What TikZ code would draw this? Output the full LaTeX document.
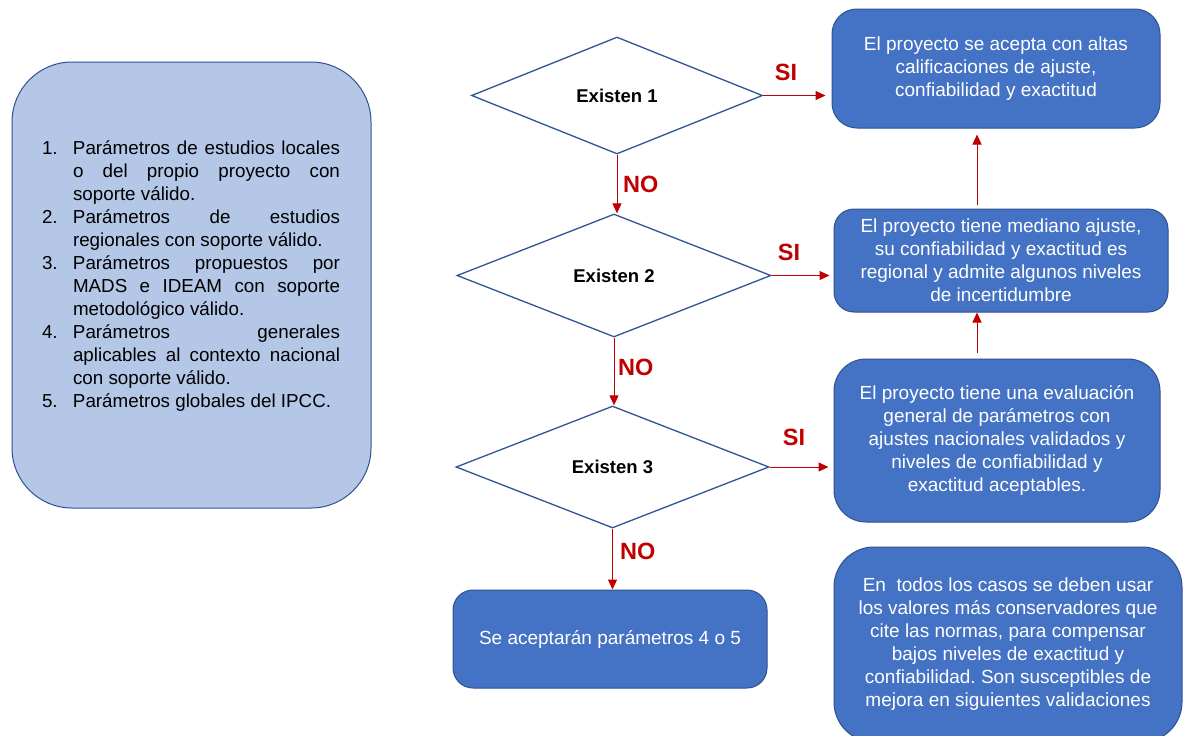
\documentclass[tikz,border=0pt]{standalone}
\usepackage{fontspec}
\setmainfont{Liberation Sans}
\usetikzlibrary{shapes.geometric,arrows.meta}
\definecolor{boxfill}{HTML}{4472C4}
\definecolor{boxline}{HTML}{2F528F}
\definecolor{leftfill}{HTML}{B4C7E7}
\definecolor{arrowred}{HTML}{C00000}
\definecolor{dialine}{HTML}{2F5597}
\frenchspacing
\begin{document}
\begin{tikzpicture}[x=1pt,y=-1pt,
  bluebox/.style={draw=boxline, fill=boxfill, line width=1pt, text=white, align=center,
    font=\fontsize{19}{23}\selectfont, inner sep=0pt},
  decision/.style={diamond, draw=dialine, line width=1.3pt, inner sep=0pt,
    font=\fontsize{18.5}{22}\selectfont\bfseries},
  flow/.style={draw=arrowred, line width=1pt, -{Triangle[length=10pt,width=9pt]}, arrowred},
  lab/.style={text=arrowred, font=\fontsize{23.5}{26}\selectfont\bfseries, inner sep=0pt},
  listtext/.style={text width=298pt, align=justify, inner sep=0pt,
    font=\fontsize{18.8}{23}\selectfont}
]
\useasboundingbox (0,0) rectangle (1183,736);
\fill[white] (0,0) rectangle (1183,736);
\begin{scope}
\clip (0,0) rectangle (1183,736);

% left list box
\node[draw=boxline, fill=leftfill, line width=1pt, rounded corners=60pt,
  minimum width=359pt, minimum height=446pt, inner sep=0pt] (left) at (191.5,285) {};
\node[listtext] (list) at (191,276) {\tolerance=10000\hyphenpenalty=10000%
\hangindent=31pt\hangafter=1\noindent\makebox[31pt][l]{1.}Parámetros de estudios locales\linebreak o del propio proyecto con\linebreak soporte válido.\par
\hangindent=31pt\hangafter=1\noindent\makebox[31pt][l]{2.}Parámetros de estudios\linebreak regionales con soporte válido.\par
\hangindent=31pt\hangafter=1\noindent\makebox[31pt][l]{3.}Parámetros propuestos por\linebreak MADS e IDEAM con soporte\linebreak metodológico válido.\par
\hangindent=31pt\hangafter=1\noindent\makebox[31pt][l]{4.}Parámetros generales\linebreak aplicables al contexto nacional\linebreak con soporte válido.\par
\hangindent=31pt\hangafter=1\noindent\makebox[31pt][l]{5.}Parámetros globales del IPCC.\par};

% decisions
\node[decision, minimum width=291pt, minimum height=117pt] (d1) at (617,95.5) {Existen 1};
\node[decision, minimum width=314pt, minimum height=123pt] (d2) at (614,275.5) {Existen 2};
\node[decision, minimum width=313pt, minimum height=122pt] (d3) at (612.5,467) {Existen 3};

% outcome boxes
\node[bluebox, rounded corners=25pt, minimum width=328pt, minimum height=119pt] (b1) at (996,68.5)
  {El proyecto se acepta con altas\\calificaciones de ajuste,\\confiabilidad y exactitud};
\node[bluebox, rounded corners=20pt, minimum width=334pt, minimum height=103pt] (b2) at (1001,260.5)
  {El proyecto tiene mediano ajuste,\\su confiabilidad y exactitud es\\regional y admite algunos niveles\\de incertidumbre};
\node[bluebox, rounded corners=32pt, minimum width=326pt, minimum height=163pt] (b3) at (997,440.5)
  {El proyecto tiene una evaluación\\general de parámetros con\\ajustes nacionales validados y\\niveles de confiabilidad y\\exactitud aceptables.};
\node[bluebox, rounded corners=40pt, minimum width=348pt, minimum height=195pt] (b4) at (1008,644.5)
  {En\ \ todos los casos se deben usar\\los valores más conservadores que\\cite las normas, para compensar\\bajos niveles de exactitud y\\confiabilidad. Son susceptibles de\\mejora en siguientes validaciones};
\node[bluebox, rounded corners=20pt, minimum width=314pt, minimum height=98pt] (b5) at (610,639)
  {Se aceptarán parámetros 4 o 5};

% NO arrows
\draw[flow] (d1.south) -- (d1.south |- d2.north);
\draw[flow] (d2.south) -- (d2.south |- d3.north);
\draw[flow] (d3.south) -- (d3.south |- b5.north);

% SI arrows
\draw[flow, shorten >=6pt] (d1.east) -- (d1.east -| b1.west);
\draw[flow, shorten >=4pt] (d2.east) -- (d2.east -| b2.west);
\draw[flow, shorten >=5pt] (d3.east) -- (d3.east -| b3.west);

% upward arrows
\draw[flow, shorten <=4pt, shorten >=6pt] (b2.north -| 977,0) -- (b1.south -| 977,0);
\draw[flow, shorten <=6pt] (b3.north -| 977,0) -- (b2.south -| 977,0);

% labels
\node[lab, anchor=west] (no1) at (623,184) {NO};
\node[lab, anchor=west] (no2) at (618,367) {NO};
\node[lab, anchor=west] (no3) at (620,551) {NO};
\node[lab] (si1) at (786,72) {SI};
\node[lab] (si2) at (789,252) {SI};
\node[lab] (si3) at (794,437) {SI};
\end{scope}
\end{tikzpicture}
\end{document}
